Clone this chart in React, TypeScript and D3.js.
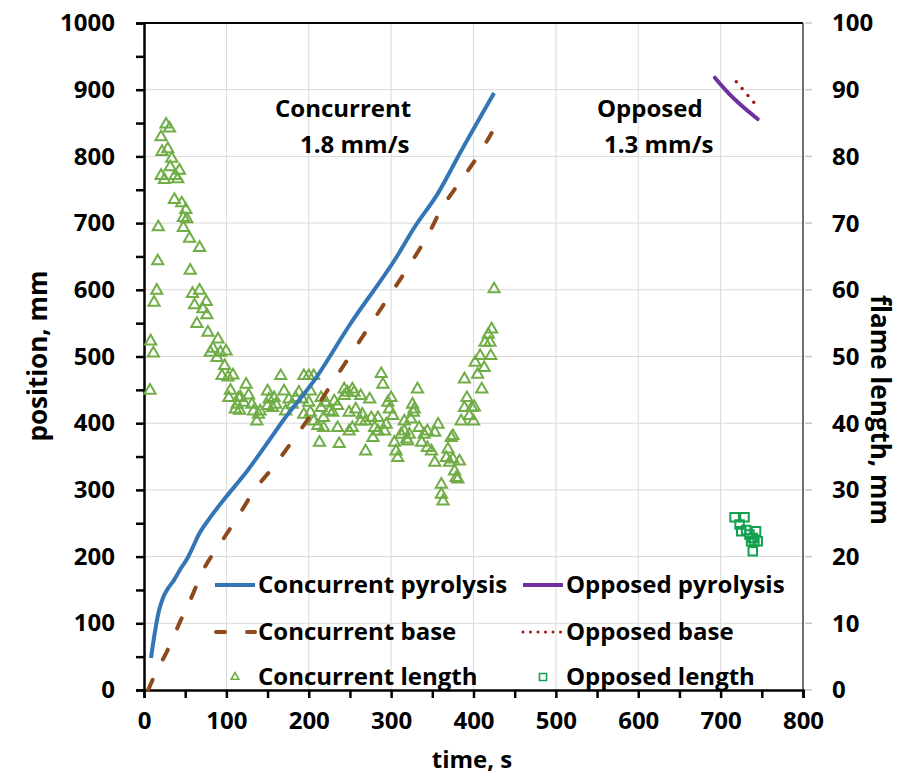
import React, { useEffect, useRef } from 'react';
import * as d3 from 'd3';

// time, s / position, mm
const concPyroTime = [8.5, 13, 18, 23, 29, 36, 45, 52, 60, 66, 80, 100, 125, 150, 170, 206, 250, 306, 328, 357, 385, 425];
const concPyroPos = [48, 85, 118, 138, 152, 164, 183, 196, 216, 232, 258, 290, 328, 371, 406, 463, 548, 648, 693, 745, 808, 895];

const concBaseTime = [5, 16, 28, 44, 54, 76, 89, 113, 135, 158, 180, 202, 250, 300, 328, 345, 361, 383, 404, 422];
const concBasePos = [0, 30, 58, 103, 129, 189, 213, 258, 301, 336, 373, 411, 501, 595, 648, 683, 721, 761, 798, 835];

const oppPyroTime = [693, 711, 745];
const oppPyroPos = [918, 893, 856];

const oppBaseTime = [719, 741];
const oppBasePos = [912, 880];

// flame length, mm (right axis)
const concLength: [number, number][] = [
  [7.3, 44.9], [8.1, 52.3], [11.4, 50.5], [12.2, 58.1], [15.5, 59.9], [16.7, 64.3], [17.4, 69.4],
  [20.7, 82.9], [20.7, 77.1], [21.9, 80.7], [24.8, 76.5], [26.8, 84.8], [28.9, 81.1], [30.9, 84.2],
  [31.7, 78.4], [33.7, 79.7], [36.9, 73.5], [37.7, 77.1], [41, 76.6], [43, 77.9], [45.8, 73.0],
  [47.8, 70.8], [47.8, 69.3], [50.8, 72.0], [52, 70.6], [55.3, 67.7], [56.1, 62.9], [58.9, 59.4],
  [61.3, 57.7], [64.2, 54.9], [67.5, 66.3], [67.5, 59.9], [71.5, 57.1], [75.6, 58.2], [76.4, 56.2],
  [77.6, 53.6], [80.5, 50.6], [83.7, 51.2], [88.6, 49.8], [89.8, 52.6], [92.7, 50.6], [94.7, 47.1],
  [97.9, 48.6], [99.6, 50.8], [102, 46.9], [103, 43.8], [105, 44.9], [108, 47.2], [111, 42.1],
  [113, 42.8], [115, 43.8], [116, 41.9], [117, 43.9], [121, 43.1], [124, 45.8], [127, 44.2],
  [131, 42.8], [133, 41.8], [137, 40.3], [139, 41.3], [141, 41.8], [150, 44.8], [150, 42.6],
  [152, 43.6], [156, 42.3], [158, 43.8], [160, 42.8], [166, 47.1], [170, 44.8], [172, 41.8],
  [176, 43.6], [180, 42.8], [184, 43.8], [188, 44.6], [192, 43.6], [194, 47.1], [194, 41.3],
  [200, 47.1], [200, 43.1], [202, 44.8], [202, 41.6], [206, 47.1], [206, 40.3], [211, 39.6],
  [213, 37.1], [215, 43.8], [215, 42.3], [218, 40.8], [218, 39.3], [221, 43.1], [225, 41.8],
  [229, 41.6], [231, 43.3], [235, 42.6], [235, 39.3], [237, 36.9], [243, 45.1], [243, 44.1],
  [247, 44.6], [249, 41.6], [249, 38.8], [253, 45.1], [253, 39.3], [255, 44.6], [257, 42.1],
  [263, 44.1], [263, 40.3], [265, 41.3], [269, 40.3], [269, 35.8], [274, 43.6], [276, 40.8],
  [278, 37.8], [280, 39.3], [284, 40.8], [284, 38.8], [288, 47.4], [290, 45.8], [292, 38.8],
  [294, 39.8], [296, 43.1], [298, 42.1], [300, 43.8], [302, 41.1], [304, 37.1], [306, 35.8],
  [308, 34.8], [312, 38.3], [316, 40.3], [316, 38.8], [319, 37.6], [320, 37.3], [322, 38.3],
  [324, 40.6], [326, 42.8], [328, 42.1], [327, 41.6], [332, 45.1], [334, 39.3], [337, 37.1],
  [340, 38.3], [344, 38.8], [344, 36.3], [349, 35.8], [353, 34.1], [353, 38.6], [357, 39.8],
  [361, 30.8], [361, 29.3], [363, 28.3], [367, 34.8], [369, 36.1], [371, 34.1], [373, 37.8],
  [375, 34.6], [375, 38.1], [377, 32.8], [379, 31.8], [381, 31.6], [383, 34.3], [385, 40.3],
  [389, 42.3], [389, 46.6], [392, 43.8], [395, 41.1], [398, 42.3], [400, 40.3], [401, 42.4],
  [402, 49.1], [405, 47.3], [408, 50.1], [410, 45.1], [413, 48.3], [414, 52.1], [418, 53.3],
  [420, 52.1], [421, 50.1], [422, 54.1], [425, 60.1],
];

const oppLength: [number, number][] = [
  [717, 25.9], [729, 25.9], [723, 24.8], [725, 23.8], [731, 24.0], [735, 23.3],
  [739, 22.8], [743, 23.8], [737, 22.3], [741, 22.3], [745, 22.3], [739, 20.8],
];

const xTicks = d3.range(0, 801, 50);
const yTicks = d3.range(0, 1001, 50);
const yRTicks = d3.range(0, 101, 10);

const FONT = '"Open Sans", sans-serif';

const App = () => {
  const ref = useRef<SVGSVGElement>(null);

  useEffect(() => {
    const svg = d3.select(ref.current);
    svg.selectAll('*').remove();

    const x = d3.scaleLinear().domain([0, 800]).range([144, 803]);
    const y = d3.scaleLinear().domain([0, 1000]).range([690, 23]);
    const yR = d3.scaleLinear().domain([0, 100]).range([690, 23]);

    const bold = (sel: any, size = 24) =>
      sel.style('font-family', FONT).style('font-weight', 700).style('font-size', size + 'px').attr('fill', '#000');

    // grid
    const grid = svg.append('g');
    grid.selectAll('.vg').data(d3.range(100, 800, 100)).enter().append('line')
      .attr('x1', (d: number) => x(d)).attr('x2', (d: number) => x(d))
      .attr('y1', y(0)).attr('y2', y(1000))
      .attr('stroke', '#d9d9d9').attr('stroke-width', 1);
    grid.selectAll('.hg').data(d3.range(100, 1000, 100)).enter().append('line')
      .attr('x1', x(0)).attr('x2', x(800))
      .attr('y1', (d: number) => y(d)).attr('y2', (d: number) => y(d))
      .attr('stroke', '#d9d9d9').attr('stroke-width', 1);

    // top border
    svg.append('line')
      .attr('x1', x(0)).attr('x2', x(800)).attr('y1', y(1000)).attr('y2', y(1000))
      .attr('stroke', '#000').attr('stroke-width', 2);

    // right axis
    const rAxis = svg.append('g').attr('transform', `translate(${x(800)},0)`);
    rAxis.append('line').attr('y1', yR(0)).attr('y2', yR(100))
      .attr('stroke', '#404040').attr('stroke-width', 1.5);
    rAxis.selectAll('.rt').data(yRTicks).enter().append('line')
      .attr('x1', 2).attr('x2', 9)
      .attr('y1', (d: number) => yR(d)).attr('y2', (d: number) => yR(d))
      .attr('stroke', '#c8c8c8').attr('stroke-width', 1.5);
    rAxis.selectAll('.rl').data(yRTicks).enter().append('text')
      .attr('x', 29).attr('y', (d: number) => yR(d)).attr('dy', '0.35em')
      .call(bold)
      .text((d: number) => d);

    // left axis
    const lAxis = svg.append('g').attr('transform', `translate(${x(0)},0)`)
      .call(d3.axisLeft(y).tickValues(yTicks).tickSize(8).tickPadding(21)
        .tickFormat((d: any) => (d % 100 === 0 ? String(d) : '')));
    lAxis.select('.domain').attr('stroke', '#000').attr('stroke-width', 2.5);
    lAxis.selectAll('.tick line').attr('stroke', '#000').attr('stroke-width', 2.5);
    lAxis.selectAll('.tick text').call(bold);

    // bottom axis
    const bAxis = svg.append('g').attr('transform', `translate(0,${y(0)})`)
      .call(d3.axisBottom(x).tickValues(xTicks).tickSize(8).tickPadding(14)
        .tickFormat((d: any) => (d % 100 === 0 ? String(d) : '')));
    bAxis.select('.domain').attr('stroke', '#000').attr('stroke-width', 2.5);
    bAxis.selectAll('.tick line').attr('stroke', '#000').attr('stroke-width', 2.5);
    bAxis.selectAll('.tick text').call(bold);

    // axis titles
    const title = (t: string, tx: number, ty: number, rot: number, size: number) =>
      svg.append('text')
        .attr('transform', `translate(${tx},${ty}) rotate(${rot})`)
        .attr('text-anchor', 'middle')
        .call(bold, size).text(t);
    title('position, mm', 47, 356, -90, 26);
    title('flame length, mm', 871, 410, 90, 26);
    title('time, s', 472, 768, 0, 24);

    // annotations
    const note = (t: string, tx: number, ty: number) =>
      svg.append('text').attr('x', tx).attr('y', ty).call(bold).text(t);
    note('Concurrent', 275, 117);
    note('1.8 mm/s', 300, 153);
    note('Opposed', 597, 117);
    note('1.3 mm/s', 604, 153);

    const line = (ts: number[], vs: number[]) =>
      d3.line<number>().x((d, i) => x(ts[i])).y((d) => y(d)).curve(d3.curveMonotoneX)(vs);

    const tri = d3.symbol().type(d3.symbolTriangle).size(54);
    const sq = d3.symbol().type(d3.symbolSquare).size(72);

    // concurrent length
    svg.append('g').selectAll('path').data(concLength).enter().append('path')
      .attr('d', tri)
      .attr('transform', (d: [number, number]) => `translate(${x(d[0])},${yR(d[1])})`)
      .attr('fill', 'none').attr('stroke', '#70AD47').attr('stroke-width', 2);

    // opposed length
    svg.append('g').selectAll('path').data(oppLength).enter().append('path')
      .attr('d', sq)
      .attr('transform', (d: [number, number]) => `translate(${x(d[0])},${yR(d[1])})`)
      .attr('fill', 'none').attr('stroke', '#13A14F').attr('stroke-width', 2);

    // lines
    svg.append('path').attr('d', line(concBaseTime, concBasePos))
      .attr('fill', 'none').attr('stroke', '#8E4A1C').attr('stroke-width', 4)
      .attr('stroke-dasharray', '11,23').attr('stroke-linecap', 'round');
    svg.append('path').attr('d', line(concPyroTime, concPyroPos))
      .attr('fill', 'none').attr('stroke', '#3375B5').attr('stroke-width', 4)
      .attr('stroke-linejoin', 'round');
    svg.append('path').attr('d', line(oppPyroTime, oppPyroPos))
      .attr('fill', 'none').attr('stroke', '#7030A0').attr('stroke-width', 4)
      .attr('stroke-linecap', 'round');
    svg.append('path').attr('d', line(oppBaseTime, oppBasePos))
      .attr('fill', 'none').attr('stroke', '#A31515').attr('stroke-width', 3.5)
      .attr('stroke-dasharray', '0,9').attr('stroke-linecap', 'round');

    // legend
    const legend = svg.append('g');
    const items = [
      { label: 'Concurrent pyrolysis', cx: 235, ty: 585, kind: 'solid', color: '#3375B5' },
      { label: 'Opposed pyrolysis', cx: 543, ty: 585, kind: 'solid', color: '#7030A0' },
      { label: 'Concurrent base', cx: 235, ty: 632, kind: 'dash', color: '#8E4A1C' },
      { label: 'Opposed base', cx: 543, ty: 632, kind: 'dot', color: '#A31515' },
      { label: 'Concurrent length', cx: 235, ty: 677, kind: 'tri', color: '#70AD47' },
      { label: 'Opposed length', cx: 543, ty: 677, kind: 'sq', color: '#13A14F' },
    ];
    items.forEach((it) => {
      if (it.kind === 'tri' || it.kind === 'sq') {
        legend.append('path')
          .attr('d', d3.symbol().type(it.kind === 'tri' ? d3.symbolTriangle : d3.symbolSquare)
            .size(it.kind === 'tri' ? 26 : 50))
          .attr('transform', `translate(${it.cx},${it.ty})`)
          .attr('fill', 'none').attr('stroke', it.color).attr('stroke-width', 1.6);
      } else {
        const l = legend.append('line')
          .attr('x1', it.cx - 20).attr('x2', it.cx + 20).attr('y1', it.ty).attr('y2', it.ty)
          .attr('stroke', it.color).attr('stroke-width', it.kind === 'dot' ? 3 : 4);
        if (it.kind === 'dash') l.attr('stroke-dasharray', '9,22').attr('stroke-dashoffset', -1).attr('stroke-linecap', 'round');
        if (it.kind === 'dot') l.attr('stroke-dasharray', '0,7.5').attr('stroke-linecap', 'round');
      }
      legend.append('text')
        .attr('x', it.cx + 23).attr('y', it.ty).attr('dy', '0.35em')
        .call(bold).text(it.label);
    });
  }, []);

  return (
    <svg ref={ref} width={898} height={778}
      style={{ position: 'absolute', left: 0, top: 0, background: '#fff' }} />
  );
};

export default App;
